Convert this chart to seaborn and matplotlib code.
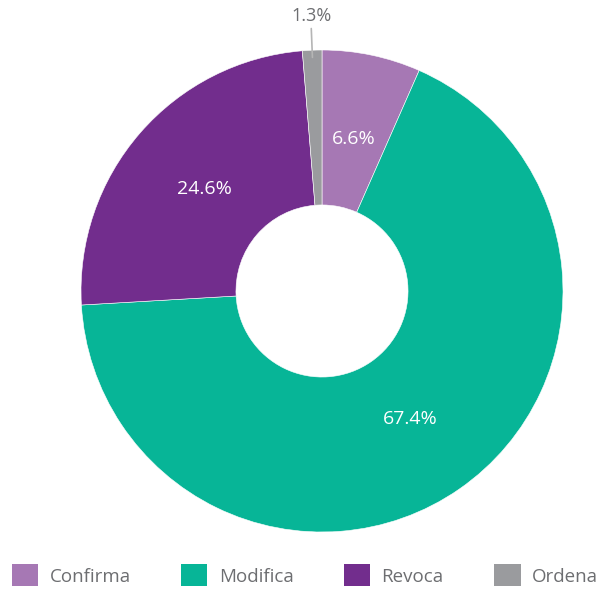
import numpy as np
import seaborn as sns
import matplotlib.pyplot as plt
from matplotlib.patches import Patch

categories = ["Confirma", "Modifica", "Revoca", "Ordena"]
shares = [6.6, 67.4, 24.6, 1.3]
colors = ["#a678b4", "#07b597", "#722d8d", "#9a9b9e"]

sns.set_theme(style="white")
plt.rcParams['font.family'] = ['Open Sans', 'DejaVu Sans']

fig = plt.figure(figsize=(5.99, 5.97), dpi=100)
# donut spans px 81..563 horizontally, 50..532 vertically
ax = fig.add_axes([81 / 599, (597 - 532) / 597, 482 / 599, 482 / 597])

wedges, _ = ax.pie(shares, colors=colors, startangle=90, counterclock=False,
                   radius=1.0, wedgeprops=dict(width=1 - 0.357, edgecolor="white", linewidth=0.4))
ax.set_xlim(-1, 1)
ax.set_ylim(-1, 1)
ax.set_aspect("equal")
ax.axis("off")

for w, val in zip(wedges, shares):
    ang = np.deg2rad((w.theta1 + w.theta2) / 2)
    txt = f"{val:.1f}%"
    if val < 3:
        x0, y0 = np.cos(ang) * 0.97, np.sin(ang) * 0.97
        x1, y1 = np.cos(ang) * 1.09, np.sin(ang) * 1.09
        ax.plot([x0, x1], [y0, y1], color="#b5b5b5", lw=1.2, clip_on=False)
        ax.text(x1, y1 + 0.015, txt, ha="center", va="bottom", color="#6d6e71",
                fontsize=13, clip_on=False)
    else:
        r = 0.645
        ax.text(np.cos(ang) * r, np.sin(ang) * r, txt, ha="center", va="center",
                color="white", fontsize=14)

handles = [Patch(facecolor=c, edgecolor="none") for c in colors]
fig.legend(handles, categories, loc="lower center", bbox_to_anchor=(0.509, -0.01), ncol=4,
           frameon=False, fontsize=13.5, handlelength=1.4, handleheight=1.4,
           columnspacing=2.7, handletextpad=0.6, labelcolor="#6d6e71")

fig.savefig("out.png", dpi=100)
